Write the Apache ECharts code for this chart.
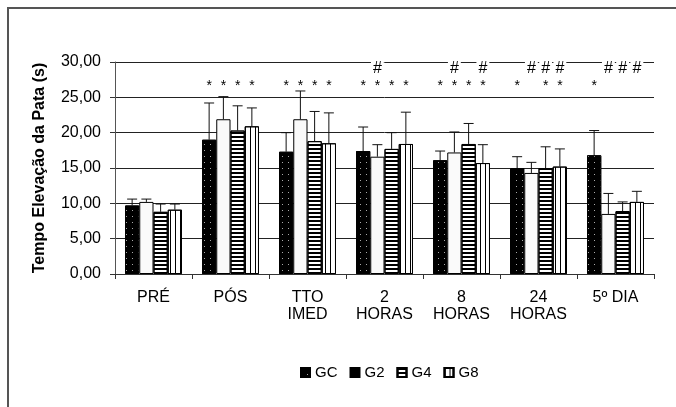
<!DOCTYPE html>
<html lang="pt-BR">
<head>
    <meta charset="UTF-8">
    <title>Tempo Elevação da Pata</title>
    <style>
        html, body { margin: 0; padding: 0; background: #fff; }
        #chart { width: 676px; height: 407px; }
    </style>
</head>
<body>

<div id="chart"></div>

<script src="https://cdn.jsdelivr.net/npm/echarts@6/dist/echarts.min.js"></script>
<script>
    // dados
    const categories = ['PRÉ', 'PÓS', 'TTO\nIMED', '2\nHORAS', '8\nHORAS', '24\nHORAS', '5º DIA'];
    const groups = ['GC', 'G2', 'G4', 'G8'];

    const gcMean = [9.7, 19.0, 17.3, 17.4, 16.1, 15.0, 16.8];
    const g2Mean = [10.2, 21.9, 21.9, 16.6, 17.2, 14.3, 8.5];
    const g4Mean = [8.8, 20.3, 18.8, 17.7, 18.4, 15.0, 8.9];
    const g8Mean = [9.1, 20.9, 18.5, 18.4, 15.7, 15.2, 10.2];

    const gcErr = [0.9, 5.2, 2.7, 3.4, 1.3, 1.6, 3.5];
    const g2Err = [0.4, 3.2, 4.0, 1.7, 2.9, 1.5, 2.9];
    const g4Err = [1.1, 3.5, 4.2, 2.3, 2.9, 3.0, 1.3];
    const g8Err = [0.8, 2.6, 4.3, 4.5, 2.6, 2.5, 1.5];

    // marcas de significância (1 = presente)
    const gcStar = [0, 1, 1, 1, 1, 1, 1];
    const g2Star = [0, 1, 1, 1, 1, 0, 0];
    const g4Star = [0, 1, 1, 1, 1, 1, 0];
    const g8Star = [0, 1, 1, 1, 1, 1, 0];
    const gcHash = [0, 0, 0, 0, 0, 0, 0];
    const g2Hash = [0, 0, 0, 1, 1, 1, 1];
    const g4Hash = [0, 0, 0, 0, 0, 1, 1];
    const g8Hash = [0, 0, 0, 0, 1, 1, 1];

    const yTicks = [0, 5, 10, 15, 20, 25, 30];
    const starLevel = 26.6;
    const hashLevel = 29.1;

    const means = [gcMean, g2Mean, g4Mean, g8Mean];
    const errs = [gcErr, g2Err, g4Err, g8Err];
    const stars = [gcStar, g2Star, g4Star, g8Star];
    const hashes = [gcHash, g2Hash, g4Hash, g8Hash];

    const FONT = 'Arial, "Liberation Sans", sans-serif';
    const GAP = 0.26;

    const barStyles = [
        { color: '#000', borderColor: '#000', borderWidth: 1,
          decal: { symbol: 'rect', symbolSize: 1, color: '#aaa', dashArrayX: [1, 5], dashArrayY: [1, 5] } },
        { color: '#fafafa', borderColor: '#000', borderWidth: 1 },
        { color: '#fff', borderColor: '#000', borderWidth: 1,
          decal: { symbol: 'rect', symbolSize: 1, color: '#000', dashArrayX: [1, 0], dashArrayY: [2, 1.5] } },
        { color: '#fff', borderColor: '#000', borderWidth: 1,
          decal: { symbol: 'rect', symbolSize: 1, color: '#000', dashArrayX: [1, 3.5], dashArrayY: [1, 0] } }
    ];

    function barCenter(api, cat, grp) {
        const band = api.size([1, 0])[0];
        const bw = band * (1 - GAP) / groups.length;
        return api.coord([cat, 0])[0] + (grp - (groups.length - 1) / 2) * bw;
    }

    const errData = [];
    const starData = [];
    const hashData = [];
    groups.forEach((g, gi) => {
        categories.forEach((c, ci) => {
            errData.push([ci, gi, means[gi][ci], errs[gi][ci]]);
            if (stars[gi][ci]) starData.push([ci, gi]);
            if (hashes[gi][ci]) hashData.push([ci, gi]);
        });
    });

    function markSeries(data, text, level, size) {
        return {
            type: 'custom',
            data: data,
            z: 5,
            silent: true,
            renderItem: (params, api) => {
                const x = barCenter(api, api.value(0), api.value(1));
                const y = api.coord([api.value(0), level])[1];
                return {
                    type: 'text',
                    x: x,
                    y: y,
                    style: {
                        text: text,
                        font: size + 'px ' + FONT,
                        fill: '#000',
                        align: 'center',
                        verticalAlign: 'middle',
                        backgroundColor: text === '#' ? '#fff' : null,
                        padding: text === '#' ? [0, 2] : 0
                    }
                };
            }
        };
    }

    const series = groups.map((g, gi) => ({
        name: g,
        type: 'bar',
        data: means[gi],
        barGap: '0%',
        barCategoryGap: (GAP * 100) + '%',
        itemStyle: barStyles[gi],
        z: 3
    }));

    series.push({
        type: 'custom',
        data: errData,
        encode: { x: 0, y: 2 },
        z: 4,
        silent: true,
        renderItem: (params, api) => {
            const x = barCenter(api, api.value(0), api.value(1));
            const y0 = api.coord([api.value(0), api.value(2)])[1];
            const y1 = api.coord([api.value(0), api.value(2) + api.value(3)])[1];
            const style = { stroke: '#111', lineWidth: 1 };
            return {
                type: 'group',
                children: [
                    { type: 'line', shape: { x1: x, y1: y0, x2: x, y2: y1 }, style: style },
                    { type: 'line', shape: { x1: x - 5, y1: y1, x2: x + 5, y2: y1 }, style: style }
                ]
            };
        }
    });
    series.push(markSeries(starData, '*', starLevel, 14));
    series.push(markSeries(hashData, '#', hashLevel, 16));

    const chart = echarts.init(document.getElementById('chart'));
    chart.setOption({
        animation: false,
        backgroundColor: '#fff',
        textStyle: { fontFamily: FONT },
        graphic: [{
            type: 'rect',
            shape: { x: 8, y: 8, width: 720, height: 440 },
            style: { fill: 'none', stroke: '#555', lineWidth: 2 },
            silent: true
        }],
        grid: { left: 115, right: 22, top: 62, bottom: 133 },
        legend: {
            top: 360,
            left: 295,
            icon: 'rect',
            itemWidth: 9,
            itemHeight: 9,
            itemGap: 12,
            textStyle: { fontSize: 15, color: '#000', fontFamily: FONT },
            data: [
                { name: 'GC' },
                { name: 'G2', itemStyle: { color: '#000' } },
                { name: 'G4' },
                { name: 'G8' }
            ]
        },
        xAxis: {
            type: 'category',
            data: categories,
            axisLine: { lineStyle: { color: '#333' } },
            axisTick: { show: true, length: 5, alignWithLabel: false, lineStyle: { color: '#333' } },
            axisLabel: { interval: 0, fontSize: 16, lineHeight: 17, color: '#000', margin: 15, fontFamily: FONT }
        },
        yAxis: {
            type: 'value',
            min: yTicks[0],
            max: yTicks[yTicks.length - 1],
            interval: yTicks[1] - yTicks[0],
            name: 'Tempo Elevação da Pata (s)',
            nameLocation: 'middle',
            nameGap: 67,
            nameRotate: 90,
            nameTextStyle: { fontSize: 16, fontWeight: 'bold', color: '#000', fontFamily: FONT },
            axisLine: { show: true, lineStyle: { color: '#555' } },
            axisTick: { show: true, length: 5, lineStyle: { color: '#333' } },
            splitLine: { show: true, lineStyle: { color: '#222', width: 1 } },
            axisLabel: {
                fontSize: 16, color: '#000', margin: 14, fontFamily: FONT,
                formatter: v => v.toFixed(2).replace('.', ',')
            }
        },
        series: series
    });
</script>

</body>
</html>
